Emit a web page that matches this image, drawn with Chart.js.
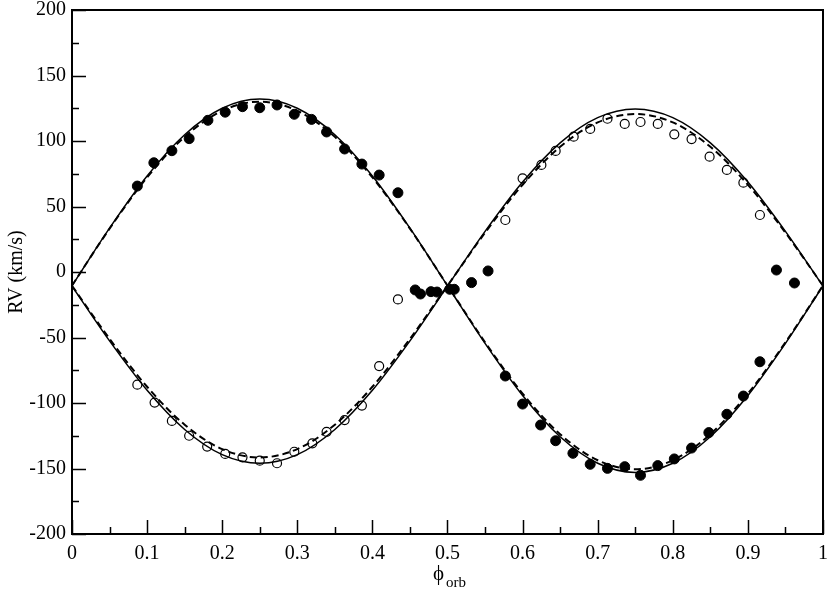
<!DOCTYPE html>
<html>
<head>
<meta charset="utf-8">
<script src="https://cdn.jsdelivr.net/npm/chart.js@4/dist/chart.umd.min.js"></script>
<style>
  body{margin:0;background:#fff}
  #wrap{width:830px;height:590px}
</style>
</head>
<body>
<div id="wrap"><canvas id="c" width="830" height="590"></canvas></div>
<script>
// observed RVs, primary (filled) and secondary (open)
const phase1 = [0.087,0.109,0.133,0.156,0.181,0.204,0.227,0.250,0.273,0.296,0.319,0.339,0.363,0.386,0.409,0.434,
  0.457,0.464,0.478,0.486,0.503,0.509,0.532,0.554,0.577,0.600,0.624,0.644,0.667,0.690,0.713,0.736,0.757,0.780,
  0.802,0.825,0.848,0.872,0.894,0.916,0.938,0.962];
const rv1 = [65.6,83.4,92.6,101.8,115.8,122,126.2,125.4,127.5,120.4,116.5,106.9,93.9,82.4,74,60.5,
  -13.7,-16.8,-15,-15.3,-13.2,-13.2,-8.1,0.8,-79.4,-100.8,-116.8,-128.8,-138.4,-146.8,-149.9,-148.6,-155.2,-147.8,
  -142.7,-134.4,-122.6,-108.6,-94.7,-68.5,1.5,-8.4];
const phase2 = [0.087,0.110,0.133,0.156,0.180,0.204,0.227,0.250,0.273,0.296,0.320,0.339,0.363,0.386,0.409,0.434,
  0.577,0.600,0.625,0.644,0.668,0.690,0.713,0.736,0.757,0.780,0.802,0.825,0.849,0.872,0.894,0.916];
const rv2 = [-86,-99.7,-113.7,-125,-133.3,-138.9,-141.5,-144,-146,-137.2,-130.8,-122,-113,-102,-71.8,-20.9,
  39.7,71.5,81.7,92.4,103.3,109.2,117,113,114.5,113,105.1,101.5,88,77.9,68.2,43.5];

// model curves
const phaseM = [0,0.05,0.1,0.15,0.2,0.25,0.3,0.35,0.4,0.45,0.5,0.55,0.6,0.65,0.7,0.75,0.8,0.85,0.9,0.95,1];
const fit1Solid  = [-10.5,33.5,73.3,104.8,125,132,125,104.8,73.3,33.5,-10.5,-54.5,-94.3,-125.8,-146,-153,-146,-125.8,-94.3,-54.5,-10.5];
const fit1Dashed = [-10.3,33.1,72.2,103.2,123.1,130,123.1,103.2,72.2,33.1,-10.3,-53.7,-92.8,-123.8,-143.7,-150.6,-143.7,-123.8,-92.8,-53.7,-10.3];
const fit2Solid  = [-10.8,-52.6,-90.3,-120.2,-139.4,-146,-139.4,-120.2,-90.3,-52.6,-10.8,31,68.7,98.6,117.8,124.4,117.8,98.6,68.7,31,-10.8];
const fit2Dashed = [-10.5,-51,-87.6,-116.6,-135.2,-141.6,-135.2,-116.6,-87.6,-51,-10.5,30,66.6,95.6,114.2,120.6,114.2,95.6,66.6,30,-10.5];

const pts = (xs, ys) => xs.map((x,i)=>({x:x, y:ys[i]}));
const FONT = "Liberation Serif";

function curve(ys, dashed){
  return {
    data: pts(phaseM, ys), showLine:true, pointRadius:0,
    borderColor:"#000", borderWidth: dashed ? 2 : 1.5,
    borderDash: dashed ? [7,4] : [],
    cubicInterpolationMode:"monotone", order:1
  };
}

// inward ticks, frame and axis titles
const frame = {
  id:"frame",
  afterDraw(chart){
    const ctx = chart.ctx, a = chart.chartArea;
    const xs = chart.scales.x, ys = chart.scales.y;
    ctx.save();
    ctx.strokeStyle = "#000";
    ctx.lineWidth = 1.5;
    ctx.beginPath();
    for(let v=0; v<=1.0001; v+=0.05){
      const px = Math.round(xs.getPixelForValue(v)) + 0.5;
      const major = Math.round(v*20) % 2 === 0;
      ctx.moveTo(px, a.bottom); ctx.lineTo(px, a.bottom - (major ? 14 : 7));
    }
    for(let v=-200; v<=200; v+=25){
      const py = Math.round(ys.getPixelForValue(v)) + 0.5;
      const major = v % 50 === 0;
      ctx.moveTo(a.left, py); ctx.lineTo(a.left + (major ? 14 : 7), py);
    }
    ctx.stroke();
    ctx.lineWidth = 2;
    ctx.strokeRect(a.left, a.top, a.right - a.left, a.bottom - a.top);

    ctx.fillStyle = "#000";
    ctx.textBaseline = "alphabetic";
    ctx.textAlign = "left";
    ctx.font = "21px " + FONT;
    ctx.fillText("ϕ", 433, 580);
    ctx.font = "15px " + FONT;
    ctx.fillText("orb", 446, 587);

    ctx.translate(22, (a.top + a.bottom)/2);
    ctx.rotate(-Math.PI/2);
    ctx.textAlign = "center";
    ctx.font = "20px " + FONT;
    ctx.fillText("RV (km/s)", 0, 0);
    ctx.restore();
  }
};

new Chart(document.getElementById("c"), {
  type:"scatter",
  data:{
    datasets:[
      {data:pts(phase1, rv1), pointRadius:5, pointBackgroundColor:"#000", pointBorderColor:"#000", pointBorderWidth:1, order:0},
      {data:pts(phase2, rv2), pointRadius:4.5, pointBackgroundColor:"rgba(255,255,255,0)", pointBorderColor:"#000", pointBorderWidth:1.2, order:0},
      curve(fit1Solid, false),
      curve(fit1Dashed, true),
      curve(fit2Solid, false),
      curve(fit2Dashed, true)
    ]
  },
  options:{
    responsive:false, animation:false,
    layout:{padding:{top:10, right:7, left:0, bottom:0}},
    plugins:{legend:{display:false}, tooltip:{enabled:false}},
    scales:{
      x:{type:"linear", min:0, max:1,
        ticks:{stepSize:0.1, color:"#000", padding:8, font:{family:FONT, size:20},
          callback:v => String(+v.toFixed(2))},
        grid:{display:false, drawTicks:false}, border:{display:false},
        afterFit(s){ s.height = 56; s.paddingLeft = 0; s.paddingRight = 0; }},
      y:{type:"linear", min:-200, max:200,
        ticks:{stepSize:50, color:"#000", padding:6, font:{family:FONT, size:20}},
        grid:{display:false, drawTicks:false}, border:{display:false},
        afterFit(s){ s.width = 72; s.paddingTop = 0; s.paddingBottom = 0; }}
    }
  },
  plugins:[frame]
});
</script>
</body>
</html>
